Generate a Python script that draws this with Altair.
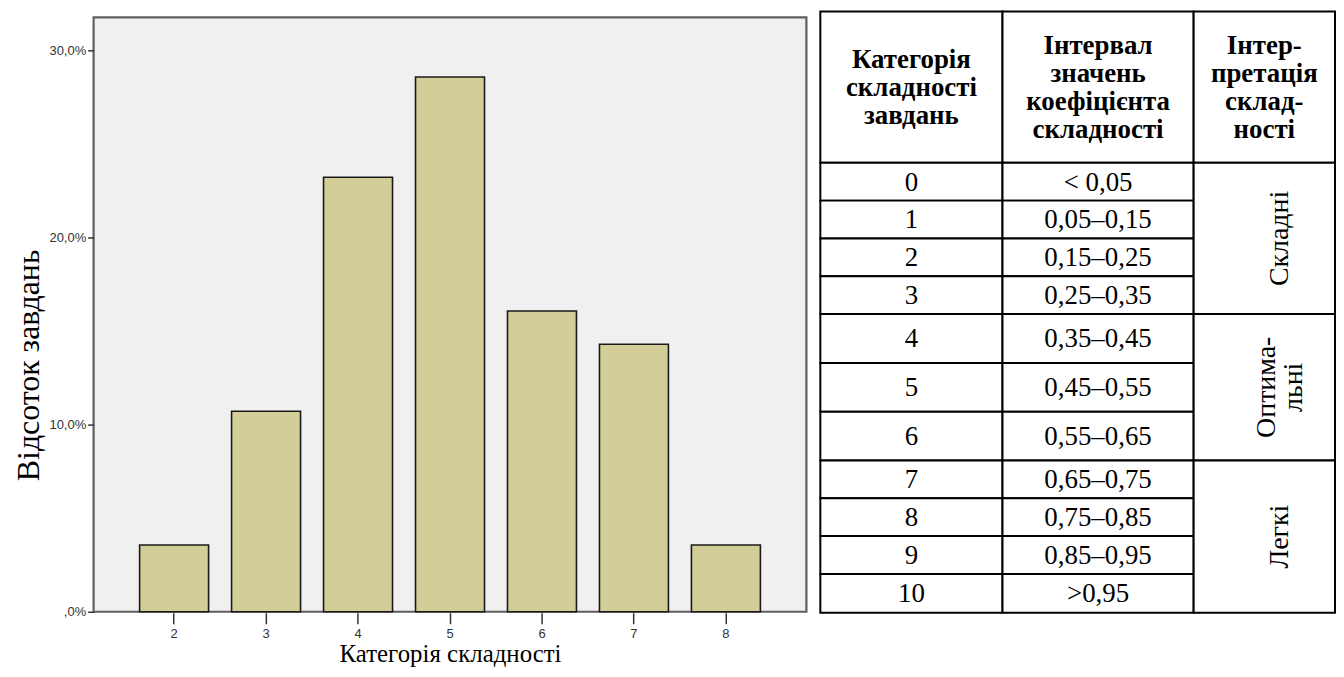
import altair as alt
import pandas as pd

# ---------------- data ----------------
categories = ["2", "3", "4", "5", "6", "7", "8"]
percent = [3.57, 10.71, 23.21, 28.57, 16.07, 14.29, 3.57]

tbl_headers = [
    ["Категорія", "складності", "завдань"],
    ["Інтервал", "значень", "коефіцієнта", "складності"],
    ["Інтер-", "претація", "склад-", "ності"],
]
tbl_categories = ["0", "1", "2", "3", "4", "5", "6", "7", "8", "9", "10"]
tbl_intervals = ["< 0,05", "0,05–0,15", "0,15–0,25", "0,25–0,35", "0,35–0,45",
                 "0,45–0,55", "0,55–0,65", "0,65–0,75", "0,75–0,85", "0,85–0,95", ">0,95"]
tbl_groups = [["Складні"], ["Оптима-", "льні"], ["Легкі"]]
tbl_group_rows = [[0, 1, 2, 3], [4, 5, 6], [7, 8, 9, 10]]

# ---------------- layout (style) ----------------
header_h = 152
row_h = [38, 38, 38, 38, 49, 49, 49, 38, 38, 38, 39]
col_w = [183, 192, 142]
head_lh = 28
grp_lh = 27
SERIF = "Liberation Serif"
SANS = "Liberation Sans"

# ---------------- bar chart ----------------
bar_df = pd.DataFrame({"cat": categories, "pct": percent})

bars = alt.Chart(bar_df).mark_bar(
    fill="#D3CE97", stroke="#1a1a1a", strokeWidth=1.6
).encode(
    x=alt.X("cat:N", sort=categories,
            scale=alt.Scale(paddingInner=0.25, paddingOuter=0.5),
            axis=alt.Axis(title="Категорія складності", labelAngle=0, domain=False,
                          tickSize=11, offset=1, tickColor="#333", tickWidth=1.5,
                          labelFont=SANS, labelFontSize=13, labelColor="#333",
                          labelPadding=4, titleFont=SERIF, titleFontSize=25,
                          titleFontWeight="normal", titleColor="#000", titlePadding=1)),
    y=alt.Y("pct:Q", scale=alt.Scale(domain=[0, 31.75], nice=False, zero=True),
            axis=alt.Axis(title="Відсоток завдань", values=[0, 10, 20, 30],
                          labelExpr="datum.value == 0 ? ',0%' : replace(format(datum.value, '.1f'), '.', ',') + '%'",
                          grid=False, domain=False, tickSize=6, tickColor="#333",
                          tickWidth=1.5, labelFont=SANS, labelFontSize=13,
                          labelColor="#333", labelPadding=2, titleFont=SERIF,
                          titleFontSize=32, titleFontWeight="normal", titleColor="#000",
                          titlePadding=4, titleY=349)),
).properties(
    width=716, height=597,
    view=alt.ViewBackground(fill="#F0F0F0", stroke="#5f5f5f", strokeWidth=2.2),
)

# ---------------- table ----------------
row_top = []
acc = header_h
for h in row_h:
    row_top.append(acc)
    acc += h
col_left = [0, col_w[0], col_w[0] + col_w[1]]
tw = sum(col_w)

cells, head, body, grp = [], [], [], []
for j, lines in enumerate(tbl_headers):
    cells.append(dict(x0=col_left[j], x1=col_left[j] + col_w[j], y0=0, y1=header_h))
    n = len(lines)
    for k, ln in enumerate(lines):
        head.append(dict(xc=col_left[j] + col_w[j] / 2,
                         yc=header_h / 2 + (k - (n - 1) / 2) * head_lh, t=ln))
for i in range(len(tbl_categories)):
    y0, y1 = row_top[i], row_top[i] + row_h[i]
    for j, val in enumerate([tbl_categories[i], tbl_intervals[i]]):
        cells.append(dict(x0=col_left[j], x1=col_left[j] + col_w[j], y0=y0, y1=y1))
        body.append(dict(xc=col_left[j] + col_w[j] / 2, yc=(y0 + y1) / 2, t=val))
for lines, rows in zip(tbl_groups, tbl_group_rows):
    y0 = row_top[rows[0]]
    y1 = row_top[rows[-1]] + row_h[rows[-1]]
    cells.append(dict(x0=col_left[2], x1=col_left[2] + col_w[2], y0=y0, y1=y1))
    n = len(lines)
    for k, ln in enumerate(lines):
        grp.append(dict(xc=col_left[2] + col_w[2] / 2 + (k - (n - 1) / 2) * grp_lh,
                        yc=(y0 + y1) / 2, t=ln))

cells_df = pd.DataFrame(cells)
head_df = pd.DataFrame(head)
body_df = pd.DataFrame(body)
grp_df = pd.DataFrame(grp)

xs = alt.Scale(domain=[0, tw], nice=False, zero=False)
ys = alt.Scale(domain=[6, 603], nice=False, zero=False, reverse=True)

rects = alt.Chart(cells_df).mark_rect(fill="white", stroke="black", strokeWidth=2).encode(
    x=alt.X("x0:Q", scale=xs, axis=None), x2="x1:Q",
    y=alt.Y("y0:Q", scale=ys, axis=None), y2="y1:Q",
)
htext = alt.Chart(head_df).mark_text(
    font=SERIF, fontSize=27, fontWeight="bold",
    align="center", baseline="middle", color="black", dy=1
).encode(x=alt.X("xc:Q", scale=xs, axis=None), y=alt.Y("yc:Q", scale=ys, axis=None), text="t:N")
btext = alt.Chart(body_df).mark_text(
    font=SERIF, fontSize=27, align="center", baseline="middle", color="black", dy=1
).encode(x=alt.X("xc:Q", scale=xs, axis=None), y=alt.Y("yc:Q", scale=ys, axis=None), text="t:N")
gtext = alt.Chart(grp_df).mark_text(
    font=SERIF, fontSize=28, angle=270,
    align="center", baseline="middle", color="black", dy=16
).encode(x=alt.X("xc:Q", scale=xs, axis=None), y=alt.Y("yc:Q", scale=ys, axis=None), text="t:N")

table = alt.layer(rects, htext, btext, gtext).properties(
    width=tw, height=597,
    view=alt.ViewBackground(strokeOpacity=0, fill="white"),
)

chart = alt.hconcat(bars, table, spacing=11).properties(
    padding={"left": 3, "top": 1, "right": 0, "bottom": 0},
    background="white",
)

chart.save("out.html", embed_options={"renderer": "svg", "actions": False})
